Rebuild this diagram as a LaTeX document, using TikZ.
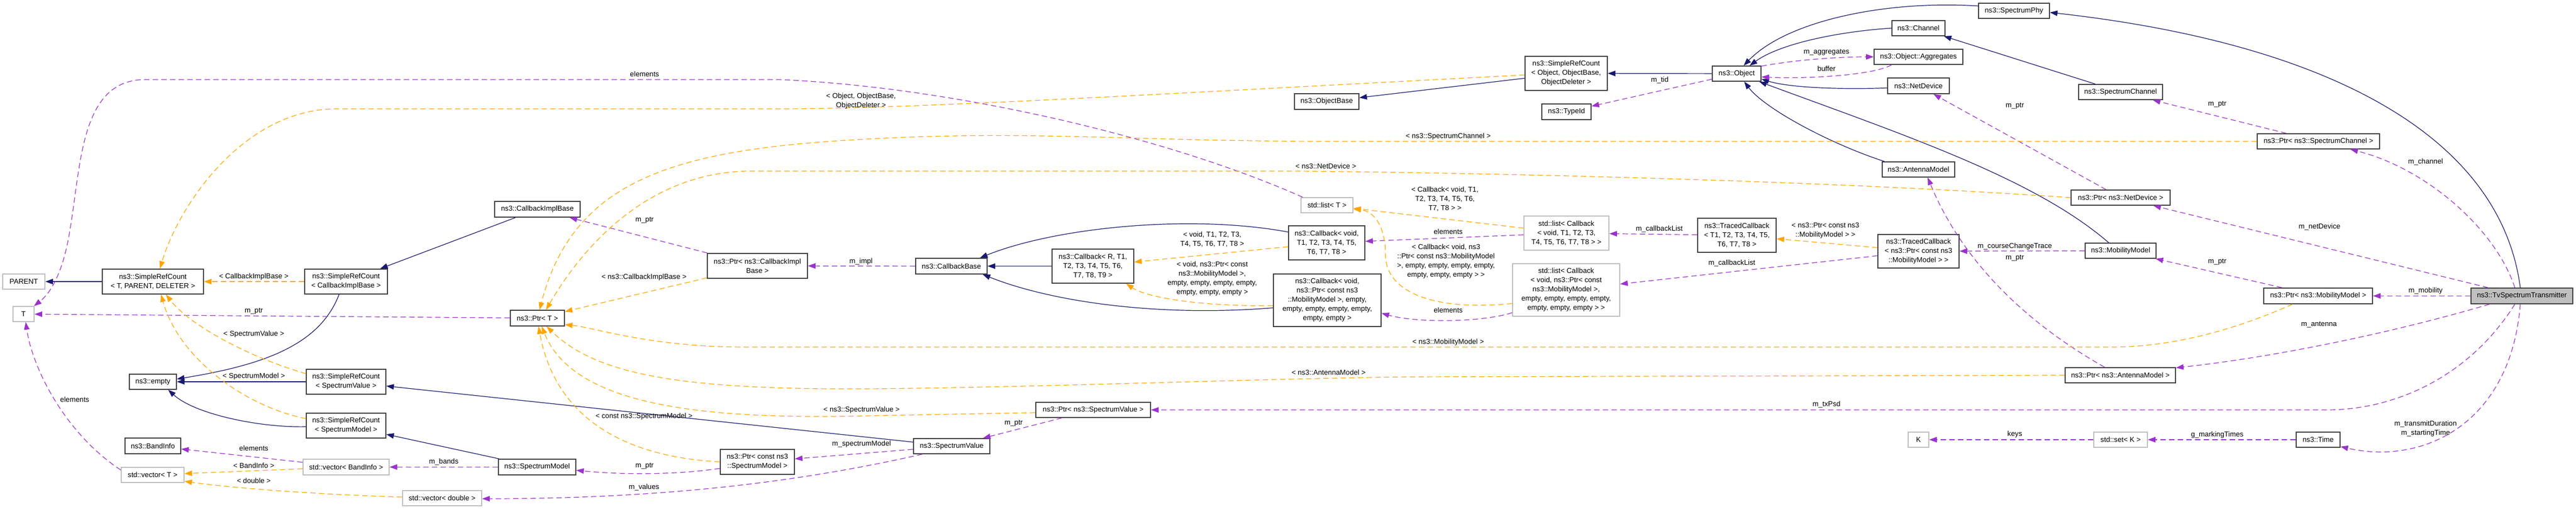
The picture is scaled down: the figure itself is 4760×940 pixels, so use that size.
\documentclass[tikz,border=0pt]{standalone}
\usepackage{fontspec}
\setmainfont{Liberation Sans}
\usepackage{xcolor}
\usetikzlibrary{calc, arrows.meta}

\definecolor{inheritBlue}{HTML}{191970}
\definecolor{usagePurple}{HTML}{9A32CD}
\definecolor{templateOrange}{HTML}{FFA500}
\definecolor{externGray}{HTML}{BFBFBF}
\newcommand{\boxFont}{\fontsize{6.6}{8.5}\selectfont}

\begin{document}
\begin{tikzpicture}[x=0.5pt, y=-0.5pt,
    classNode/.style={draw=black!75, line width=0.8pt, fill=white, inner sep=0pt, align=center, font=\boxFont},
    extNode/.style={classNode, draw=externGray},
    mainNode/.style={classNode, fill=externGray},
    edgeLabel/.style={inner sep=0pt, align=center, font=\boxFont},
    inheritEdge/.style={draw=inheritBlue, line width=0.6pt, -{Triangle[length=7pt, width=5pt]}},
    usageEdge/.style={draw=usagePurple, line width=0.6pt, dash pattern=on 5pt off 3pt, -{Triangle[length=7pt, width=5pt]}},
    templateEdge/.style={usageEdge, draw=templateOrange}]

    \NewDocumentCommand{\classBox}{ O{classNode} m m m m m m }{
        \node[#1, minimum width={(#5-#3)*0.5pt}, minimum height={(#6-#4)*0.5pt}]
            (#2) at ({(#3+#5)/2}, {(#4+#6)/2}) {#7};
    }

    \useasboundingbox (0,0) rectangle (4760,940);

    %% Classes
    \classBox[extNode]{parentParam}{5}{506}{83}{534}{PARENT}
    \classBox[extNode]{tParam}{24}{566}{63}{594}{T}
    \classBox{srcTPD}{189}{497}{376}{543}{ns3::SimpleRefCount\\< T, PARENT, DELETER >}
    \classBox{srcCIB}{563}{497}{716}{543}{ns3::SimpleRefCount\\< CallbackImplBase >}
    \classBox{emptyCls}{239}{691}{326}{719}{ns3::empty}
    \classBox{srcSV}{566}{682}{713}{728}{ns3::SimpleRefCount\\< SpectrumValue >}
    \classBox{srcSM}{566}{763}{713}{809}{ns3::SimpleRefCount\\< SpectrumModel >}
    \classBox{bandInfo}{231}{809}{334}{838}{ns3::BandInfo}
    \classBox[extNode]{vecT}{224}{863}{340}{891}{std::vector< T >}
    \classBox[extNode]{vecBI}{560}{848}{719}{877}{std::vector< BandInfo >}
    \classBox[extNode]{vecD}{744}{906}{890}{934}{std::vector< double >}
    \classBox{cbImpl}{914}{372}{1072}{401}{ns3::CallbackImplBase}
    \classBox{ptrCIB}{1307}{468}{1492}{514}{ns3::Ptr< ns3::CallbackImpl\\Base >}
    \classBox{ptrT}{943}{573}{1043}{602}{ns3::Ptr< T >}
    \classBox{specModel}{921}{848}{1064}{877}{ns3::SpectrumModel}
    \classBox{ptrCSM}{1331}{830}{1468}{876}{ns3::Ptr< const ns3\\::SpectrumModel >}
    \classBox{cbBase}{1692}{477}{1824}{506}{ns3::CallbackBase}
    \classBox{cbR}{1944}{460}{2095}{523}{ns3::Callback< R, T1,\\T2, T3, T4, T5, T6,\\T7, T8, T9 >}
    \classBox{cbVoid}{2381}{417}{2522}{480}{ns3::Callback< void,\\T1, T2, T3, T4, T5,\\T6, T7, T8 >}
    \classBox{cbMob}{2353}{506}{2552}{603}{ns3::Callback< void,\\ns3::Ptr< const ns3\\::MobilityModel >, empty,\\empty, empty, empty, empty,\\empty, empty >}
    \classBox{ptrSV}{1914}{743}{2126}{771}{ns3::Ptr< ns3::SpectrumValue >}
    \classBox{specValue}{1688}{810}{1829}{838}{ns3::SpectrumValue}
    \classBox{objBase}{2392}{173}{2511}{202}{ns3::ObjectBase}
    \classBox{srcObj}{2818}{104}{2970}{167}{ns3::SimpleRefCount\\< Object, ObjectBase,\\ObjectDeleter >}
    \classBox{object}{3164}{122}{3254}{150}{ns3::Object}
    \classBox{typeId}{2849}{192}{2940}{221}{ns3::TypeId}
    \classBox[extNode]{listT}{2404}{365}{2500}{393}{std::list< T >}
    \classBox[extNode]{listCB}{2816}{399}{2973}{462}{std::list< Callback\\< void, T1, T2, T3,\\T4, T5, T6, T7, T8 > >}
    \classBox{tcT}{3137}{403}{3282}{466}{ns3::TracedCallback\\< T1, T2, T3, T4, T5,\\T6, T7, T8 >}
    \classBox[extNode]{listMob}{2795}{487}{2993}{584}{std::list< Callback\\< void, ns3::Ptr< const\\ns3::MobilityModel >,\\empty, empty, empty, empty,\\empty, empty, empty > >}
    \classBox{specPhy}{3656}{6}{3787}{34}{ns3::SpectrumPhy}
    \classBox{channel}{3496}{38}{3594}{66}{ns3::Channel}
    \classBox{aggr}{3463}{91}{3627}{119}{ns3::Object::Aggregates}
    \classBox{netDev}{3488}{144}{3602}{173}{ns3::NetDevice}
    \classBox{specChan}{3841}{156}{3996}{184}{ns3::SpectrumChannel}
    \classBox{antenna}{3478}{299}{3612}{327}{ns3::AntennaModel}
    \classBox{ptrND}{3827}{351}{4010}{379}{ns3::Ptr< ns3::NetDevice >}
    \classBox{tcMob}{3470}{433}{3620}{495}{ns3::TracedCallback\\< ns3::Ptr< const ns3\\::MobilityModel > >}
    \classBox{mobModel}{3853}{449}{3984}{477}{ns3::MobilityModel}
    \classBox{ptrAM}{3816}{679}{4020}{707}{ns3::Ptr< ns3::AntennaModel >}
    \classBox[extNode]{keyK}{3526}{798}{3564}{826}{K}
    \classBox[extNode]{setK}{3869}{798}{3968}{826}{std::set< K >}
    \classBox{ptrSC}{4171}{247}{4397}{275}{ns3::Ptr< ns3::SpectrumChannel >}
    \classBox{ptrMM}{4183}{532}{4384}{561}{ns3::Ptr< ns3::MobilityModel >}
    \classBox[mainNode]{tvst}{4566}{532}{4754}{561}{ns3::TvSpectrumTransmitter}
    \classBox{timeCls}{4243}{798}{4324}{826}{ns3::Time}

    % Inheritance
    \draw[inheritEdge] (srcTPD) -- (parentParam);
    \draw[inheritEdge] ($(srcCIB.south)+(-13,0)$) .. controls (590,640) and (480,675) .. ($(emptyCls.east)+(0,-5)$);
    \draw[inheritEdge] (srcSV) -- (emptyCls);
    \draw[inheritEdge] ($(srcSM.west)+(0,2)$) .. controls (480,790) and (360,765) .. ($(emptyCls.south east)+(-16,0)$);
    \draw[inheritEdge] (cbImpl) -- (srcCIB);
    \draw[inheritEdge] (specValue) -- (srcSV);
    \draw[inheritEdge] (specModel) -- (srcSM);
    \draw[inheritEdge] (cbR) -- (cbBase);
    \draw[inheritEdge] ($(cbVoid.west)+(0,-20)$) .. controls (2200,395) and (1950,420) .. ($(cbBase.north east)+(-14,0)$);
    \draw[inheritEdge] ($(cbMob.west)+(0,14)$) .. controls (2150,585) and (1950,560) .. ($(cbBase.south east)+(-9,0)$);
    \draw[inheritEdge] (srcObj) -- (objBase);
    \draw[inheritEdge] (object) -- (srcObj);
    \draw[inheritEdge] ($(specPhy.west)+(0,-9)$) .. controls (3480,0) and (3300,40) .. ($(object.north)+(13,0)$);
    \draw[inheritEdge] (channel.west) .. controls (3400,58) and (3290,80) .. ($(object.north)+(24,0)$);
    \draw[inheritEdge] ($(netDev.west)+(0,4)$) .. controls (3380,166) and (3300,160) .. ($(object.east)+(0,10)$);
    \draw[inheritEdge] ($(antenna.north west)+(5,0)$) .. controls (3380,265) and (3260,200) .. ($(object.south)+(14,0)$);
    \draw[inheritEdge] ($(mobModel.north)+(-22,0)$) .. controls (3760,330) and (3520,250) .. ($(object.south east)+(-4,0)$);
    \draw[inheritEdge] (specChan) -- (channel);
    \draw[inheritEdge] ($(tvst.north)+(-3,0)$) .. controls (4620,250) and (4300,80) .. ($(specPhy.east)+(0,3)$);

    % Usage
    \draw[usageEdge] ($(vecT.west)+(0,-9)$) .. controls (120,800) and (60,680) .. ($(tParam.south)+(4,0)$);
    \draw[usageEdge] ($(listT.north west)+(4,0)$) .. controls (2150,250) and (1750,160) .. (1440,147) -- (265,147)
        .. controls (150,150) and (150,300) .. (130,420) .. controls (118,500) and (95,540) .. ($(tParam.north east)+(-1,0)$);
    \draw[usageEdge] (ptrT) -- (tParam);
    \draw[usageEdge] (vecBI) -- (bandInfo);
    \draw[usageEdge] (specModel) -- (vecBI);
    \draw[usageEdge] (ptrCIB) -- (cbImpl);
    \draw[usageEdge] (cbBase) -- (ptrCIB);
    \draw[usageEdge] ($(ptrCSM.west)+(0,12)$) .. controls (1250,877) and (1150,877) .. ($(specModel.east)+(0,6)$);
    \draw[usageEdge] (specValue) -- (ptrCSM);
    \draw[usageEdge] ($(specValue.south west)+(17,0)$) .. controls (1500,885) and (1250,921) .. ($(vecD.east)+(0,1)$);
    \draw[usageEdge] (ptrSV) -- (specValue);
    \draw[usageEdge] ($(tvst.south)+(-13,0)$) .. controls (4560,700) and (4420,757) .. (4300,757) -- (ptrSV.east);
    \draw[usageEdge] (listCB) -- (cbVoid);
    \draw[usageEdge] (tcT) -- (listCB);
    \draw[usageEdge] ($(listMob.west)+(0,42)$) .. controls (2740,595) and (2620,597) .. ($(cbMob.east)+(0,24)$);
    \draw[usageEdge] (tcMob) -- (listMob);
    \draw[usageEdge] (object) -- (typeId);
    \draw[usageEdge] ($(object.north east)+(0,1)$) .. controls (3320,110) and (3400,105) .. (aggr.west);
    \draw[usageEdge] ($(aggr.south west)+(33,0)$) .. controls (3460,140) and (3330,146) .. ($(object.east)+(0,6)$);
    \draw[usageEdge] (ptrND) -- (netDev);
    \draw[usageEdge] (mobModel) -- (tcMob);
    \draw[usageEdge] ($(ptrAM.north)+(-29,0)$) .. controls (3680,560) and (3600,420) .. ($(antenna.south)+(17,0)$);
    \draw[usageEdge] (ptrSC) -- (specChan);
    \draw[usageEdge] (ptrMM) -- (mobModel);
    \draw[usageEdge] ($(tvst.north)+(-13,0)$) .. controls (4610,420) and (4480,310) .. ($(ptrSC.south)+(59,0)$);
    \draw[usageEdge] (tvst) -- (ptrND);
    \draw[usageEdge] (tvst) -- (ptrMM);
    \draw[usageEdge] ($(tvst.south west)+(35,0)$) .. controls (4420,615) and (4200,660) .. ($(ptrAM.north east)+(0,1)$);
    \draw[usageEdge] ($(tvst.south)+(-3,0)$) .. controls (4640,780) and (4480,860) .. ($(timeCls.south east)+(0,-2)$);
    \draw[usageEdge] (timeCls) -- (setK);
    \draw[usageEdge] (setK) -- (keyK);

    % Template instances
    \draw[templateEdge] (srcCIB) -- (srcTPD);
    \draw[templateEdge] ($(srcSV.west)+(0,-15)$) .. controls (460,660) and (350,600) .. ($(srcTPD.south)+(24,0)$);
    \draw[templateEdge] ($(srcSM.west)+(0,-13)$) .. controls (450,750) and (330,660) .. ($(srcTPD.south)+(15,0)$);
    \draw[templateEdge] ($(srcObj.west)+(0,3)$) .. controls (2200,170) and (1700,201) .. (1440,201) -- (622,201)
        .. controls (450,201) and (330,380) .. ($(srcTPD.north)+(13,0)$);
    \draw[templateEdge] (ptrSC.west) -- (2450,261) .. controls (2100,261) and (1900,240) .. (1600,257)
        .. controls (1250,275) and (1060,330) .. ($(ptrT.north)+(4,0)$);
    \draw[templateEdge] (ptrND.west) .. controls (3400,335) and (2800,320) .. (2400,316) -- (1380,316)
        .. controls (1200,320) and (1080,450) .. ($(ptrT.north)+(16,0)$);
    \draw[templateEdge] (ptrCIB) -- (ptrT);
    \draw[templateEdge] ($(ptrMM.south west)+(54,0)$) .. controls (4150,600) and (4030,641) .. (3900,641) -- (1380,641)
        .. controls (1200,641) and (1100,605) .. ($(ptrT.east)+(0,12)$);
    \draw[templateEdge] (ptrAM.west) -- (2600,696) .. controls (2300,700) and (1900,716) .. (1600,718)
        .. controls (1250,720) and (1100,690) .. ($(ptrT.south)+(17,0)$);
    \draw[templateEdge] ($(ptrSV.west)+(0,5)$) -- (1600,768) .. controls (1300,775) and (1060,750) .. ($(ptrT.south)+(8,0)$);
    \draw[templateEdge] (ptrCSM.west) .. controls (1180,845) and (1030,790) .. ($(ptrT.south)+(2,0)$);
    \draw[templateEdge] (listCB) -- (listT);
    \draw[templateEdge] ($(listMob.west)+(0,25)$) .. controls (2650,575) and (2560,540) .. (2560,470)
        .. controls (2560,420) and (2540,390) .. ($(listT.east)+(0,7)$);
    \draw[templateEdge] (cbVoid) -- (cbR);
    \draw[templateEdge] ($(cbMob.west)+(0,10)$) .. controls (2220,566) and (2120,550) .. ($(cbR.south east)+(-15,0)$);
    \draw[templateEdge] (tcMob) -- (tcT);
    \draw[templateEdge] (vecBI) -- (vecT);
    \draw[templateEdge] ($(vecD.west)+(0,-2)$) .. controls (560,912) and (420,900) .. ($(vecT.south east)+(0,-3)$);

    % Labels
    \node[edgeLabel] (lbCib) at (469,511) {< CallbackImplBase >};
    \node[edgeLabel] (lbPtrT) at (469,575) {m\_ptr};
    \node[edgeLabel] (lbSv) at (469,617) {< SpectrumValue >};
    \node[edgeLabel] (lbSm) at (469,695) {< SpectrumModel >};
    \node[edgeLabel] (lbVecElem) at (138,738) {elements};
    \node[edgeLabel] (lbBandElem) at (469,828) {elements};
    \node[edgeLabel] (lbBand) at (469,860) {< BandInfo >};
    \node[edgeLabel] (lbDouble) at (469,888) {< double >};
    \node[edgeLabel] (lbBands) at (820,853) {m\_bands};
    \node[edgeLabel] (lbListElem) at (1191,137) {elements};
    \node[edgeLabel] (lbObj) at (1591,187) {< Object, ObjectBase,\\ObjectDeleter >};
    \node[edgeLabel] (lbCibPtr) at (1191,407) {m\_ptr};
    \node[edgeLabel] (lbPtrCib) at (1190,512) {< ns3::CallbackImplBase >};
    \node[edgeLabel] (lbImpl) at (1591,483) {m\_impl};
    \node[edgeLabel] (lbConstSm) at (1190,769) {< const ns3::SpectrumModel >};
    \node[edgeLabel] (lbSmPtr) at (1191,861) {m\_ptr};
    \node[edgeLabel] (lbValues) at (1190,900) {m\_values};
    \node[edgeLabel] (lbPtrSv) at (1592,757) {< ns3::SpectrumValue >};
    \node[edgeLabel] (lbSpecModel) at (1592,820) {m\_spectrumModel};
    \node[edgeLabel] (lbSvPtr) at (1873,782) {m\_ptr};
    \node[edgeLabel] (lbVoidT) at (2240,442) {< void, T1, T2, T3,\\T4, T5, T6, T7, T8 >};
    \node[edgeLabel] (lbVoidMob) at (2240,515) {< void, ns3::Ptr< const\\ns3::MobilityModel >,\\empty, empty, empty, empty,\\empty, empty, empty >};
    \node[edgeLabel] (lbNetDev) at (2450,307) {< ns3::NetDevice >};
    \node[edgeLabel] (lbChan) at (2676,252) {< ns3::SpectrumChannel >};
    \node[edgeLabel] (lbMob) at (2676,632) {< ns3::MobilityModel >};
    \node[edgeLabel] (lbAnt) at (2455,688) {< ns3::AntennaModel >};
    \node[edgeLabel] (lbTid) at (3067,148) {m\_tid};
    \node[edgeLabel] (lbListCb) at (2670,368) {< Callback< void, T1,\\T2, T3, T4, T5, T6,\\T7, T8 > >};
    \node[edgeLabel] (lbCbElem) at (2676,428) {elements};
    \node[edgeLabel] (lbListMob) at (2672,483) {< Callback< void, ns3\\::Ptr< const ns3::MobilityModel\\>, empty, empty, empty, empty,\\empty, empty, empty > >};
    \node[edgeLabel] (lbMobElem) at (2676,573) {elements};
    \node[edgeLabel] (lbCbList) at (3066,423) {m\_callbackList};
    \node[edgeLabel] (lbCbListMob) at (3200,486) {m\_callbackList};
    \node[edgeLabel] (lbAggr) at (3375,97) {m\_aggregates};
    \node[edgeLabel] (lbBuffer) at (3375,127) {buffer};
    \node[edgeLabel] (lbNdPtr) at (3723,196) {m\_ptr};
    \node[edgeLabel] (lbTcMob) at (3373,426) {< ns3::Ptr< const ns3\\::MobilityModel > >};
    \node[edgeLabel] (lbCourse) at (3723,455) {m\_courseChangeTrace};
    \node[edgeLabel] (lbAmPtr) at (3723,477) {m\_ptr};
    \node[edgeLabel] (lbTxPsd) at (3375,747) {m\_txPsd};
    \node[edgeLabel] (lbKeys) at (3723,802) {keys};
    \node[edgeLabel] (lbScPtr) at (4097,193) {m\_ptr};
    \node[edgeLabel] (lbChannel) at (4482,299) {m\_channel};
    \node[edgeLabel] (lbNetDevice) at (4286,419) {m\_netDevice};
    \node[edgeLabel] (lbMmPtr) at (4097,484) {m\_ptr};
    \node[edgeLabel] (lbMobility) at (4482,537) {m\_mobility};
    \node[edgeLabel] (lbAntenna) at (4285,600) {m\_antenna};
    \node[edgeLabel] (lbTimes) at (4482,792) {m\_transmitDuration\\m\_startingTime};
    \node[edgeLabel] (lbMarking) at (4097,803) {g\_markingTimes};

\end{tikzpicture}
\end{document}
